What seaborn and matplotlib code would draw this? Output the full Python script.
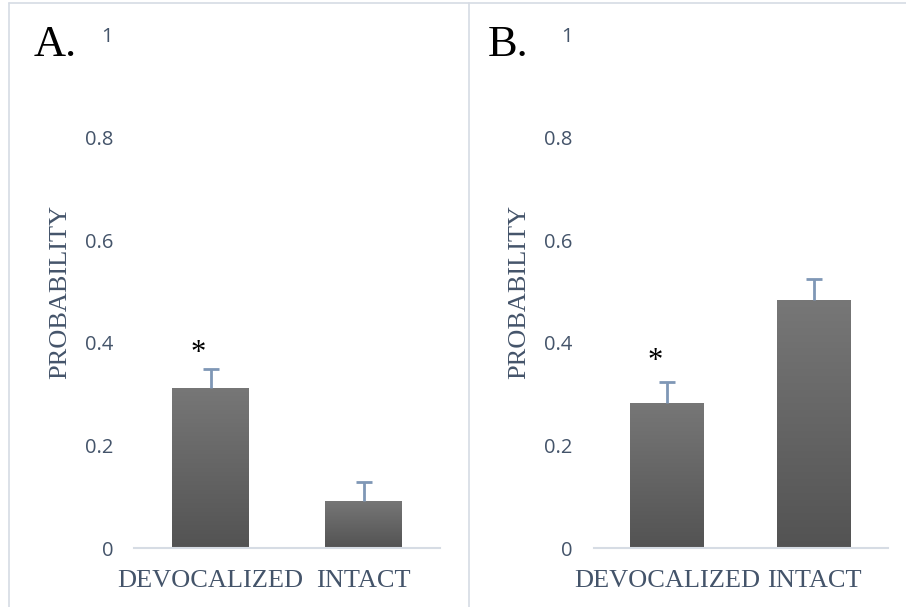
import numpy as np
import pandas as pd
import matplotlib
matplotlib.use("Agg")
import matplotlib.pyplot as plt
from matplotlib.lines import Line2D
import seaborn as sns

# ---- data ----
categories = ["DEVOCALIZED", "INTACT"]
values_a = [0.312, 0.092]
errors_a = [0.037, 0.037]
values_b = [0.283, 0.483]
errors_b = [0.041, 0.041]
yticks = [0, 0.2, 0.4, 0.6, 0.8, 1]
ytick_labels = ["0", "0.2", "0.4", "0.6", "0.8", "1"]
star_a = 0.380
star_b = 0.364
panel_letters = ["A.", "B."]
ylabel = "PROBABILITY"

sns.set_style("white")
plt.rcParams["font.family"] = ["Open Sans", "DejaVu Sans"]

TXT = "#44546A"
ERR = "#7F97B6"
SPINE = "#D6DCE4"

fig = plt.figure(figsize=(9.06, 6.07), dpi=100)
W, H = 906, 607


def draw_panel(rect, values, errors, star_y):
    ax = fig.add_axes(rect)
    df = pd.DataFrame({"cat": categories, "val": values})
    sns.barplot(data=df, x="cat", y="val", ax=ax, color="#606060",
                width=0.5, errorbar=None, saturation=1)
    # gradient fill
    grad = np.linspace(0, 1, 256).reshape(-1, 1)
    cmap = matplotlib.colors.LinearSegmentedColormap.from_list(
        "g", ["#535353", "#777777"])
    for p in ax.patches:
        x0, y0 = p.get_x(), p.get_y()
        w, h = p.get_width(), p.get_height()
        im = ax.imshow(grad, extent=[x0, x0 + w, y0, y0 + h], origin="lower",
                       cmap=cmap, aspect="auto", zorder=p.get_zorder() + 0.1)
        im.set_clip_path(p)
    eb = ax.errorbar(range(len(values)), values,
                     yerr=[np.zeros(len(errors)), errors], fmt="none",
                     ecolor=ERR, elinewidth=2, capsize=6, capthick=2, zorder=5)
    # keep only the upper caps
    caplines = eb[1]
    if len(caplines) == 2:
        caplines[0].set_visible(False)
    ax.text(0 - 0.08, star_y, "*", ha="center", va="center", fontsize=22,
            family="Liberation Serif", color="black")
    ax.set_xlim(-0.5, 1.5)
    ax.set_ylim(0, 1)
    ax.set_yticks(yticks)
    ax.set_yticklabels(ytick_labels, fontsize=14.5, color=TXT)
    ax.set_xlabel("")
    ax.set_ylabel(ylabel, family="Liberation Serif", fontsize=19, color=TXT)
    for lab in ax.get_xticklabels():
        lab.set_family("Liberation Serif")
        lab.set_fontsize(19)
        lab.set_color(TXT)
    ax.tick_params(axis="y", length=0, pad=15)
    ax.tick_params(axis="x", length=0, pad=16)
    for s in ["top", "right", "left"]:
        ax.spines[s].set_visible(False)
    ax.spines["bottom"].set_color(SPINE)
    ax.spines["bottom"].set_linewidth(1.5)
    ax.patch.set_alpha(0)
    return ax


axA = draw_panel([134 / W, 59 / H, 306 / W, 513 / H], values_a, errors_a, star_a)
axB = draw_panel([593.5 / W, 59 / H, 294 / W, 513 / H], values_b, errors_b, star_b)
axA.yaxis.set_label_coords(-0.205, 0.5)
axB.yaxis.set_label_coords(-0.215, 0.5)

fig.text(34 / W, 1 - 56 / H, panel_letters[0], family="Liberation Serif",
         fontsize=32, color="black", ha="left", va="baseline")
fig.text(488 / W, 1 - 56 / H, panel_letters[1], family="Liberation Serif",
         fontsize=32, color="black", ha="left", va="baseline")

# frame lines
for (xs, ys) in [([9 / W, 1], [1 - 2.5 / H, 1 - 2.5 / H]),
                 ([9 / W, 9 / W], [0, 1 - 2.5 / H]),
                 ([469 / W, 469 / W], [0, 1 - 2.5 / H])]:
    fig.add_artist(Line2D(xs, ys, color=SPINE, lw=1.2))

fig.savefig("out.png", dpi=100)
